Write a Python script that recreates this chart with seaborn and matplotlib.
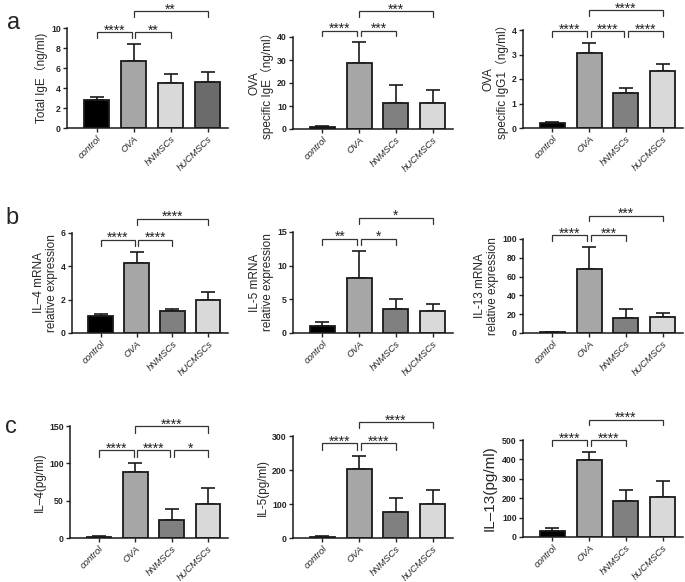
import numpy as np
import matplotlib
matplotlib.use('Agg')
import matplotlib.pyplot as plt
import seaborn as sns

sns.set_style('ticks')
plt.rcParams['font.family'] = ['Liberation Sans', 'Noto Sans CJK SC', 'DejaVu Sans']

# groups and fill colours
groups = ['control', 'OVA', 'hNMSCs', 'hUCMSCs']
colors_default = ['#000000', '#a6a6a6', '#808080', '#d9d9d9']
colors_total_ige = ['#000000', '#a6a6a6', '#d9d9d9', '#6b6b6b']

# panel a
total_ige_mean = [2.8, 6.7, 4.5, 4.6]
total_ige_err = [0.3, 1.7, 0.9, 1.0]
ova_ige_mean = [1.0, 28.7, 11.3, 11.3]
ova_ige_err = [0.3, 9.3, 7.9, 5.7]
ova_igg1_mean = [0.2, 3.08, 1.42, 2.32]
ova_igg1_err = [0.05, 0.4, 0.23, 0.3]

# panel b
il4_mrna_mean = [1.0, 4.22, 1.32, 2.0]
il4_mrna_err = [0.12, 0.66, 0.13, 0.45]
il5_mrna_mean = [1.1, 8.2, 3.6, 3.3]
il5_mrna_err = [0.6, 4.0, 1.4, 1.0]
il13_mrna_mean = [1.0, 68.0, 15.5, 17.5]
il13_mrna_err = [0.5, 24.0, 10.0, 4.0]

# panel c
il4_pg_mean = [1.5, 88.0, 24.0, 46.0]
il4_pg_err = [1.0, 12.0, 15.0, 21.0]
il5_pg_mean = [3.0, 202.0, 77.0, 100.0]
il5_pg_err = [2.0, 40.0, 41.0, 40.0]
il13_pg_mean = [30.0, 395.0, 188.0, 208.0]
il13_pg_err = [15.0, 45.0, 52.0, 80.0]

# comparisons: (group i, group j, label, row)
comp_3 = lambda a, b, c: [(0, 1, a, 0), (1, 2, b, 0), (1, 3, c, 1)]

panels = [
    # mean, err, colors, ylabel, yticks, comparisons, rect(px: x0, x1, ytop, ybottom)
    (total_ige_mean, total_ige_err, colors_total_ige, 'Total IgE（ng/ml)',
     [0, 2, 4, 6, 8, 10], comp_3('****', '**', '**'), (67, 228, 28, 128)),
    (ova_ige_mean, ova_ige_err, colors_default, 'OVA\nspecific IgE（ng/ml）',
     [0, 10, 20, 30, 40], comp_3('****', '***', '***'), (293, 453, 37, 129)),
    (ova_igg1_mean, ova_igg1_err, colors_default, 'OVA\nspecific IgG1（ng/ml）',
     [0, 1, 2, 3, 4], [(0, 1, '****', 0), (1, 2, '****', 0), (2, 3, '****', 0), (1, 3, '****', 1)],
     (523, 683, 30, 128)),
    (il4_mrna_mean, il4_mrna_err, colors_default, 'IL–4 mRNA\nrelative expression',
     [0, 2, 4, 6], comp_3('****', '****', '****'), (72, 228, 233, 333)),
    (il5_mrna_mean, il5_mrna_err, colors_default, 'IL-5 mRNA\nrelative expression',
     [0, 5, 10, 15], comp_3('**', '*', '*'), (293, 453, 232, 333)),
    (il13_mrna_mean, il13_mrna_err, colors_default, 'IL-13 mRNA\nrelative expression',
     [0, 20, 40, 60, 80, 100], comp_3('****', '***', '***'), (523, 683, 239, 333)),
    (il4_pg_mean, il4_pg_err, colors_default, 'IL–4(pg/ml)',
     [0, 50, 100, 150], [(0, 1, '****', 0), (1, 2, '****', 0), (2, 3, '*', 0), (1, 3, '****', 1)],
     (70, 228, 426, 538)),
    (il5_pg_mean, il5_pg_err, colors_default, 'IL-5(pg/ml)',
     [0, 100, 200, 300], comp_3('****', '****', '****'), (293, 453, 436, 538)),
    (il13_pg_mean, il13_pg_err, colors_default, 'IL–13(pg/ml)',
     [0, 100, 200, 300, 400, 500], comp_3('****', '****', '****'), (523, 683, 440, 537)),
]

W, H = 685, 582
fig = plt.figure(figsize=(W / 100, H / 100), dpi=100)


def draw_brackets(ax, mean, err, comps, top):
    tops = np.array(mean) + np.array(err)
    base = tops.max() + 0.12 * top
    step = 0.21 * top
    pad = 0.06 * top
    for i, j, label, row in comps:
        y = base + row * step
        # offset legs that share a bar with a neighbouring bracket on the same row
        xi = i + (0.05 if any(c[1] == i and c[3] == row for c in comps) else 0)
        xj = j - (0.05 if any(c[0] == j and c[3] == row for c in comps) else 0)
        yi = max(tops[i] + pad, y - pad)
        yj = max(tops[j] + pad, y - pad)
        ax.plot([xi, xi, xj, xj], [yi, y, y, yj], color='#333333', lw=0.9,
                clip_on=False, solid_joinstyle='miter')
        ax.annotate(label, ((xi + xj) / 2, y), xytext=(0, -1.8), textcoords='offset points',
                    ha='center', va='baseline', fontsize=10, annotation_clip=False,
                    color='#222222')


for mean, err, colors, ylabel, yticks, comps, (x0, x1, yt, yb) in panels:
    ax = fig.add_axes([x0 / W, 1 - yb / H, (x1 - x0) / W, (yb - yt) / H])
    sns.barplot(x=groups, y=mean, hue=groups, palette=colors, legend=False,
                edgecolor='#1a1a1a', linewidth=1.3, width=0.68, errorbar=None, ax=ax)
    ax.errorbar(range(len(groups)), mean, yerr=[np.zeros(len(err)), err], fmt='none',
                ecolor='#1a1a1a', elinewidth=1.2, capsize=5, capthick=1.2, zorder=1)
    for p in ax.patches:
        p.set_zorder(2)
    top = yticks[-1]
    ax.set_ylim(0, top)
    ax.set_xlim(-0.8, 3.55)
    ax.set_yticks(yticks)
    ax.set_yticklabels([str(t) for t in yticks], fontsize=6.3, fontweight='bold')
    ax.set_xticks(range(len(groups)))
    ax.set_xticklabels(groups, rotation=45, ha='right', rotation_mode='anchor',
                       fontsize=6.8, style='italic')
    if ylabel.startswith('IL–13('):
        ax.set_ylabel(ylabel, fontsize=11, labelpad=4)
    else:
        ax.set_ylabel(ylabel, fontsize=8.5, labelpad=2, linespacing=1.1)
    ax.tick_params(direction='out', length=3, width=1, pad=1.5)
    for s in ['top', 'right']:
        ax.spines[s].set_visible(False)
    for s in ['left', 'bottom']:
        ax.spines[s].set_linewidth(1.1)
        ax.spines[s].set_color('#1a1a1a')
    draw_brackets(ax, mean, err, comps, top)

fig.text(7 / W, 1 - 23 / H, 'a', fontsize=17, va='center', ha='left')
fig.text(5 / W, 1 - 218 / H, 'b', fontsize=17, va='center', ha='left')
fig.text(5 / W, 1 - 427 / H, 'c', fontsize=17, va='center', ha='left')

fig.savefig('out.png', dpi=100)
